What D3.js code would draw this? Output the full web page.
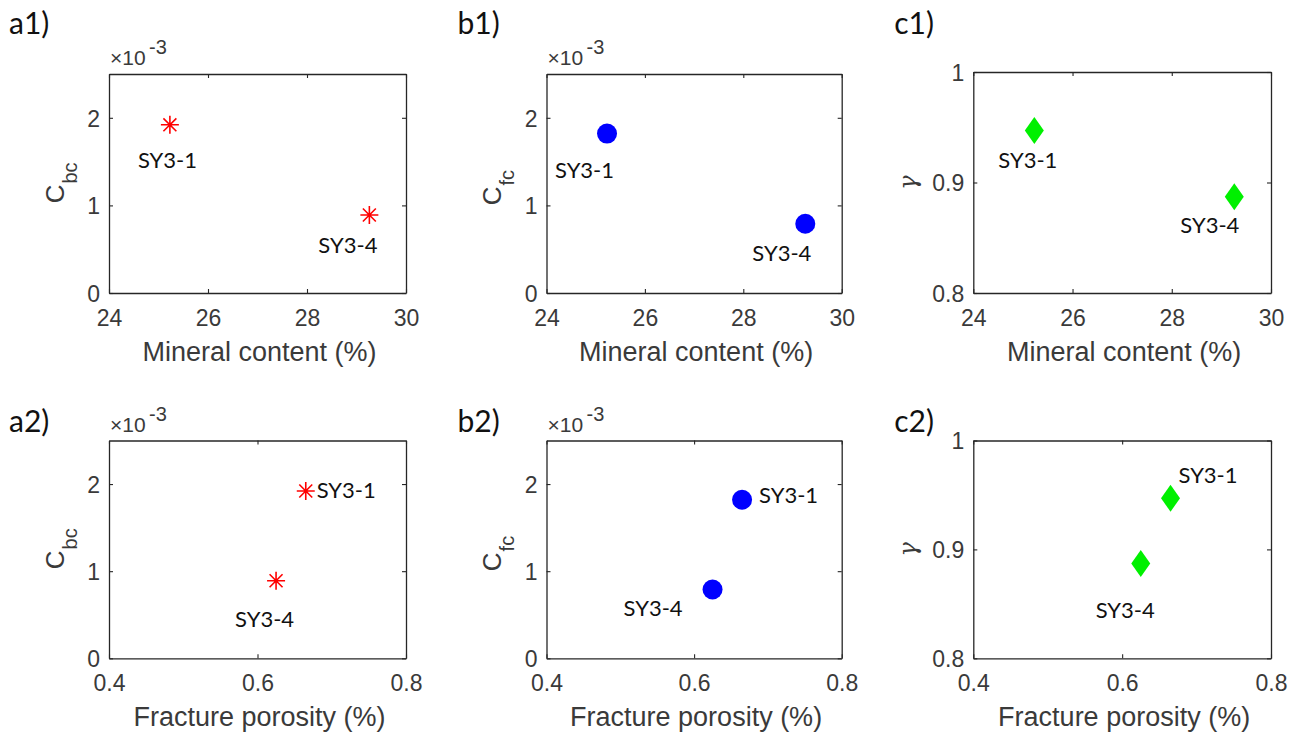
<!DOCTYPE html>
<html>
<head>
<meta charset="utf-8">
<script src="https://cdn.jsdelivr.net/npm/d3@7"></script>
<style>
  body { margin: 0; background: #fff; }
  svg { display: block; }
  .tick text { font-family: "Liberation Sans", Arial, sans-serif; font-size: 23px; fill: #3a3a3a; }
</style>
</head>
<body>
<svg id="chart" width="1297" height="737"></svg>
<script>
// data
const samples = ["SY3-1", "SY3-4"]
const mineralContent = [25.23, 29.26]      // %
const fracturePorosity = [0.665, 0.625]    // %
const cbc = [1.92, 0.89]                   // x10^-3
const cfc = [1.82, 0.79]                   // x10^-3
const gamma = [0.947, 0.887]

const mineralTicks = [24, 26, 28, 30]
const porosityTicks = [0.4, 0.6, 0.8]
const cTicks = [0, 1, 2]
const gammaTicks = [0.8, 0.9, 1]

const svg = d3.select('#chart')
const axisColor = '#262626'
const textColor = '#3a3a3a'
const sans = '"Liberation Sans", Arial, sans-serif'

// layout of the 3x2 grid
const cols = [{left: 109, right: 406}, {left: 546.5, right: 841.7}, {left: 973.3, right: 1271}]
const rows = [{top: 74, bottom: 293, xLabel: 'Mineral content (%)', xs: mineralContent, xDomain: [24, 30], xTicks: mineralTicks, xFmt: d3.format('d')},
              {top: 440.5, bottom: 658.3, xLabel: 'Fracture porosity (%)', xs: fracturePorosity, xDomain: [0.4, 0.8], xTicks: porosityTicks, xFmt: d3.format('.1f')}]

const colSpec = [
  {letter: 'a', ys: cbc, yDomain: [0, 2.5], yTicks: cTicks, yFmt: d3.format('d'), sub: 'bc', marker: 'star', color: '#ff0000', exp: true},
  {letter: 'b', ys: cfc, yDomain: [0, 2.5], yTicks: cTicks, yFmt: d3.format('d'), sub: 'fc', marker: 'circle', color: '#0000ff', exp: true},
  {letter: 'c', ys: gamma, yDomain: [0.8, 1], yTicks: gammaTicks, yFmt: v => v === 1 ? '1' : d3.format('.1f')(v), sub: null, marker: 'diamond', color: '#00f000', exp: false}
]

// label offsets (px from marker) per panel, [SY3-1, SY3-4]
const labelOffsets = {
  a1: [[-32, 43], [-51, 38]],
  b1: [[-52, 44], [-53, 37]],
  c1: [[-36, 37], [-54, 36]],
  a2: [[11, 7], [-41, 46]],
  b2: [[17, 3], [-89, 27]],
  c2: [[8, -15], [-45, 54]]
}

const drawMarker = (g, type, color, x, y) => {
  if (type === 'star') {
    const r = 9, d = r * 0.72
    g.append('path')
      .attr('d', `M${x - r},${y}L${x + r},${y}M${x},${y - r}L${x},${y + r}M${x - d},${y - d}L${x + d},${y + d}M${x - d},${y + d}L${x + d},${y - d}`)
      .style('stroke', color).style('stroke-width', 1.6).style('fill', 'none')
  } else if (type === 'circle') {
    g.append('circle').attr('cx', x).attr('cy', y).attr('r', 10).style('fill', color)
  } else {
    const w = 9.5, h = 13.5
    g.append('path')
      .attr('d', `M${x},${y - h}L${x + w},${y}L${x},${y + h}L${x - w},${y}Z`)
      .style('fill', color)
  }
}

const styleAxis = sel => {
  sel.select('.domain').style('stroke', axisColor).style('stroke-width', 1.3)
  sel.selectAll('.tick line').style('stroke', axisColor).style('stroke-width', 1.1)
}

rows.forEach((row, ri) => {
  colSpec.forEach((spec, ci) => {
    const col = cols[ci]
    const top = (ri === 0 && ci === 2) ? 72 : row.top
    const bottom = row.bottom
    const x = d3.scaleLinear().domain(row.xDomain).range([col.left, col.right])
    const y = d3.scaleLinear().domain(spec.yDomain).range([bottom, top])
    const g = svg.append('g')
    const key = spec.letter + (ri + 1)

    // box + inward ticks on all sides
    const xb = g.append('g').attr('transform', `translate(0,${bottom})`)
      .call(d3.axisBottom(x).tickValues(row.xTicks).tickFormat(row.xFmt).tickSize(-4).tickSizeOuter(0))
      .call(styleAxis)
    xb.selectAll('.tick text').attr('y', 33).attr('dy', null)
    g.append('g').attr('transform', `translate(0,${top})`)
      .call(d3.axisTop(x).tickValues(row.xTicks).tickFormat('').tickSize(-4).tickSizeOuter(0))
      .call(styleAxis)
    const yl = g.append('g').attr('transform', `translate(${col.left},0)`)
      .call(d3.axisLeft(y).tickValues(spec.yTicks).tickFormat(spec.yFmt).tickSize(-4).tickSizeOuter(0).tickPadding(9))
      .call(styleAxis)
    yl.selectAll('.tick text').attr('dy', '0.36em')
    g.append('g').attr('transform', `translate(${col.right},0)`)
      .call(d3.axisRight(y).tickValues(spec.yTicks).tickFormat('').tickSize(-4).tickSizeOuter(0))
      .call(styleAxis)

    // x axis title
    g.append('text')
      .attr('x', (col.left + col.right) / 2 + 2)
      .attr('y', bottom + 68)
      .attr('text-anchor', 'middle')
      .attr('font-family', sans)
      .attr('font-size', 27)
      .attr('fill', textColor)
      .text(row.xLabel)

    // y axis title
    const cy = (top + bottom) / 2
    if (spec.sub) {
      const yt = g.append('g').attr('transform', `translate(${col.left - 45.5},${cy}) rotate(-90)`)
      yt.append('text')
        .attr('x', spec.sub === 'bc' ? -1 : -3)
        .attr('text-anchor', 'end')
        .attr('font-family', sans).attr('font-size', 26).attr('fill', textColor)
        .text('C')
      yt.append('text')
        .attr('x', spec.sub === 'bc' ? 0 : -2)
        .attr('y', 13)
        .attr('font-family', sans).attr('font-size', 20).attr('fill', textColor)
        .text(spec.sub)
    } else {
      g.append('text')
        .attr('transform', `translate(${col.left - 57},${cy}) rotate(-90)`)
        .attr('text-anchor', 'middle')
        .attr('font-family', '"DejaVu Serif", serif')
        .attr('font-style', 'italic')
        .attr('font-size', 24)
        .attr('fill', textColor)
        .text('γ')
    }

    // exponent
    if (spec.exp) {
      g.append('text')
        .attr('x', col.left + 1)
        .attr('y', top - 9)
        .attr('font-family', sans).attr('font-size', 21).attr('fill', textColor)
        .text('×10')
      g.append('text')
        .attr('x', col.left + 40)
        .attr('y', top - 20)
        .attr('font-family', sans).attr('font-size', 20).attr('fill', textColor)
        .text('-3')
    }

    // panel letter
    svg.append('text')
      .attr('x', cols[ci].left - [100, 89, 79][ci])
      .attr('y', ri === 0 ? 34 : 432)
      .attr('font-family', 'Lato, "Open Sans", sans-serif')
      .attr('font-size', 30)
      .attr('fill', '#111')
      .text(`${spec.letter}${ri + 1})`)

    // markers + sample labels
    samples.forEach((s, i) => {
      const px = x(row.xs[i]), py = y(spec.ys[i])
      drawMarker(g, spec.marker, spec.color, px, py)
      const [dx, dy] = labelOffsets[key][i]
      g.append('text')
        .attr('x', px + dx)
        .attr('y', py + dy)
        .attr('font-family', 'Lato, "Open Sans", sans-serif')
        .attr('font-size', 22)
        .attr('fill', '#111')
        .text(s)
    })
  })
})
</script>
</body>
</html>
